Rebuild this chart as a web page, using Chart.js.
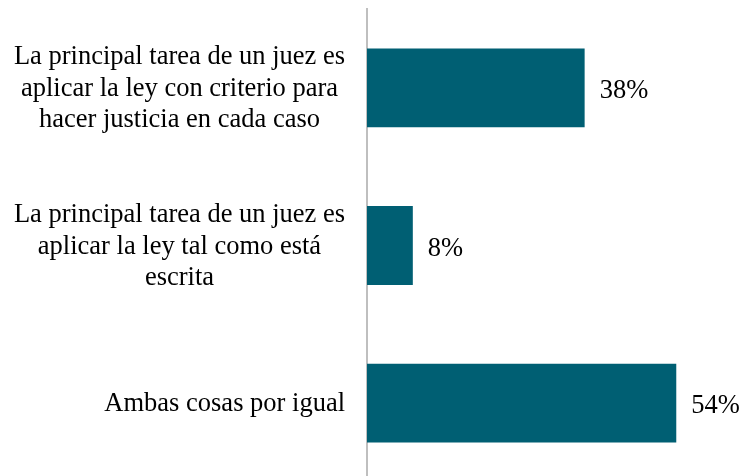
<!DOCTYPE html>
<html>
<head>
<meta charset="utf-8">
<script src="https://cdn.jsdelivr.net/npm/chart.js@4.4.0/dist/chart.umd.min.js"></script>
<style>
html,body{margin:0;padding:0;background:#fff;overflow:hidden;}
#wrap{width:745px;height:482px;position:relative;}
</style>
</head>
<body>
<div id="wrap"><canvas id="c"></canvas></div>
<script>
const categories = [
  ["La principal tarea de un juez es", "aplicar la ley con criterio para", "hacer justicia en cada caso"],
  ["La principal tarea de un juez es", "aplicar la ley tal como está", "escrita"],
  ["Ambas cosas por igual"]
];
const values = [38, 8, 54];
const valueLabels = ["38%", "8%", "54%"];

const FONT = '"Liberation Serif", serif';
const CAT_SIZE = 26.5;
const VAL_SIZE = 26.5;

const labelPlugin = {
  id: 'labels',
  afterDraw(chart) {
    const ctx = chart.ctx;
    const y = chart.scales.y;
    const meta = chart.getDatasetMeta(0);
    ctx.save();
    ctx.fillStyle = '#000';
    ctx.textBaseline = 'alphabetic';
    ctx.font = CAT_SIZE + 'px ' + FONT;
    const lh = 31.5;
    const right = chart.chartArea.left - 22;
    categories.forEach((lines, i) => {
      const cy = y.getPixelForTick(i);
      const w = Math.max(...lines.map(l => ctx.measureText(l).width));
      const cx = right - w / 2;
      ctx.textAlign = 'center';
      lines.forEach((l, k) => {
        ctx.fillText(l, cx, cy + 8 + (k - (lines.length - 1) / 2) * lh);
      });
    });
    ctx.font = VAL_SIZE + 'px ' + FONT;
    ctx.textAlign = 'left';
    meta.data.forEach((bar, i) => {
      ctx.fillText(valueLabels[i], bar.x + 15, bar.y + 10);
    });
    ctx.restore();
  }
};

new Chart(document.getElementById('c'), {
  type: 'bar',
  data: {
    labels: categories,
    datasets: [{
      data: values,
      backgroundColor: '#005f73',
      barPercentage: 0.5,
      categoryPercentage: 1.0
    }]
  },
  options: {
    indexAxis: 'y',
    responsive: true,
    maintainAspectRatio: false,
    animation: false,
    layout: { padding: { top: 9, right: 0, bottom: 0, left: 0 } },
    plugins: { legend: { display: false }, tooltip: { enabled: false } },
    scales: {
      x: { display: false, min: 0, max: 66 },
      y: {
        afterFit(s) { s.width = 367; },
        ticks: { display: false },
        grid: { display: false, drawTicks: false },
        border: { display: true, color: '#bfbfbf', width: 2 }
      }
    }
  },
  plugins: [labelPlugin]
});
</script>
</body>
</html>
